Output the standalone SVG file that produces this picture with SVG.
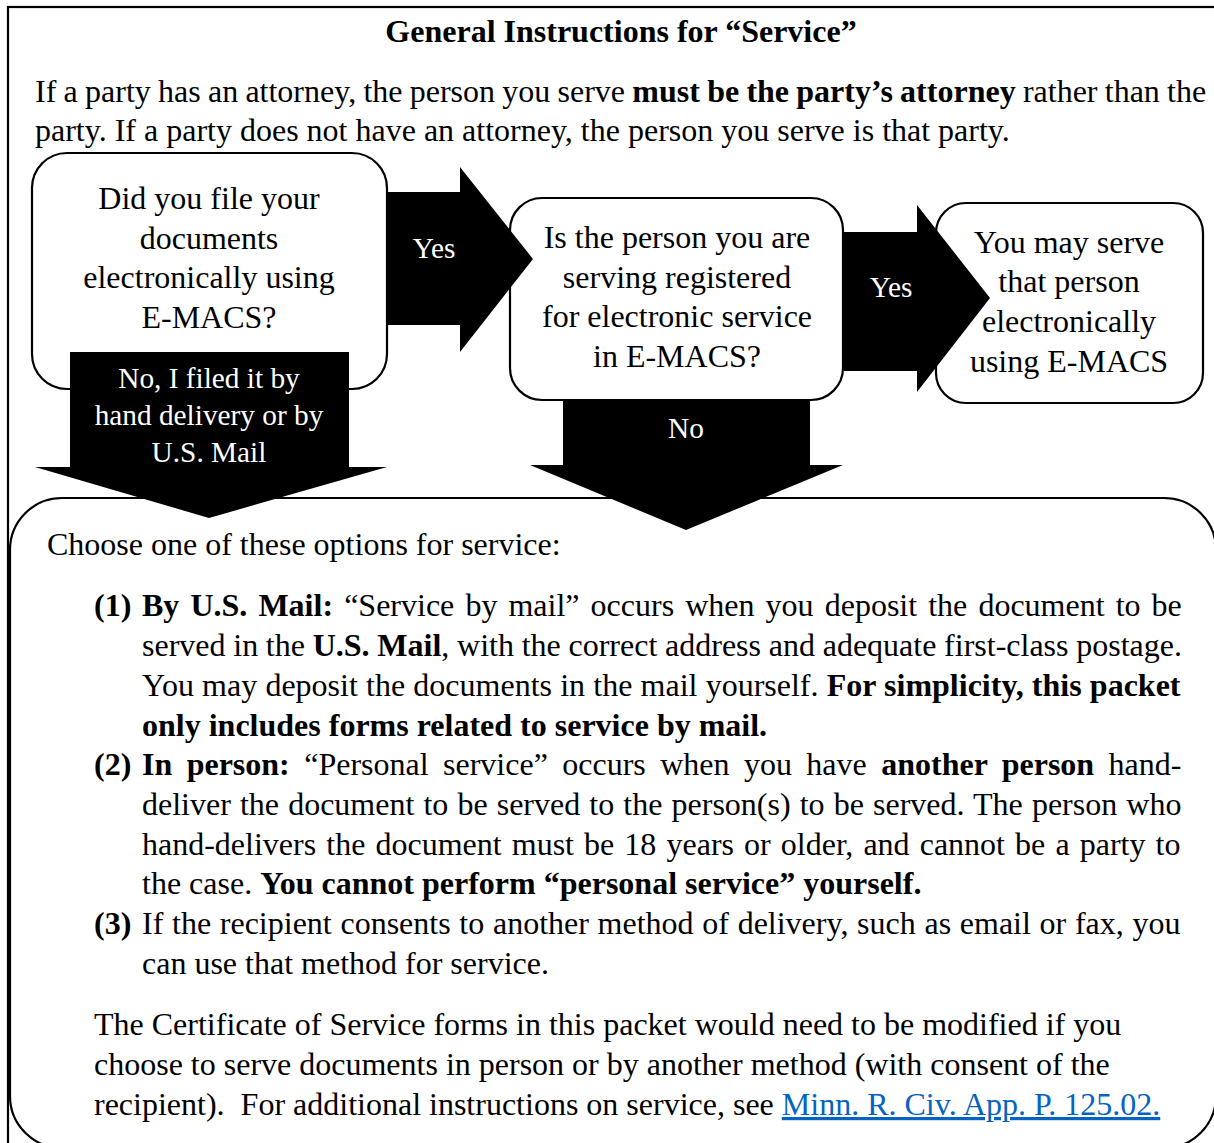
<svg xmlns="http://www.w3.org/2000/svg" width="1214" height="1143" viewBox="0 0 1214 1143">
<style>
.t{font-family:"Liberation Serif","Times New Roman",serif;font-size:32px;fill:#000}
.b{font-weight:bold}
.c{text-anchor:middle}
.w{fill:#fff;font-size:29.3px;text-anchor:middle}
.box{fill:#fff;stroke:#000;stroke-width:2.2}
.arrow{fill:#000;stroke:none}
.lnk{fill:#0563C1;text-decoration:underline}
</style>
<rect x="8" y="7" width="1230" height="1160" fill="#fff" stroke="#000" stroke-width="2.2"/>
<g id="header">
<text class="t b c" x="621" y="42">General Instructions for “Service”</text>
<text class="t" x="35" y="102" word-spacing="-0.75">If a party has an attorney, the person you serve <tspan class="b">must be the party’s attorney</tspan> rather than the</text>
<text class="t" x="35" y="141">party. If a party does not have an attorney, the person you serve is that party.</text>
</g>
<g id="options">
<rect class="box" x="10" y="498" width="1206" height="650" rx="52" ry="52"/>
<text class="t" x="47" y="555">Choose one of these options for service:</text>
<text class="t b" x="94" y="616">(1)</text>
<text class="t" x="142" y="616" word-spacing="3.08"><tspan class="b">By U.S. Mail:</tspan> “Service by mail” occurs when you deposit the document to be</text>
<text class="t" x="142" y="656" word-spacing="-0.27">served in the <tspan class="b">U.S. Mail</tspan>, with the correct address and adequate first-class postage.</text>
<text class="t" x="142" y="696" word-spacing="0.2">You may deposit the documents in the mail yourself. <tspan class="b">For simplicity, this packet</tspan></text>
<text class="t b" x="142" y="736">only includes forms related to service by mail.</text>
<text class="t b" x="94" y="775">(2)</text>
<text class="t" x="142" y="775" word-spacing="6.42"><tspan class="b">In person:</tspan> “Personal service” occurs when you have <tspan class="b">another person</tspan> hand-</text>
<text class="t" x="142" y="815" word-spacing="1.1">deliver the document to be served to the person(s) to be served. The person who</text>
<text class="t" x="142" y="855" word-spacing="2.1">hand-delivers the document must be 18 years or older, and cannot be a party to</text>
<text class="t" x="142" y="894">the case. <tspan class="b">You cannot perform “personal service” yourself.</tspan></text>
<text class="t b" x="94" y="934">(3)</text>
<text class="t" x="142" y="934" word-spacing="0.7">If the recipient consents to another method of delivery, such as email or fax, you</text>
<text class="t" x="142" y="974">can use that method for service.</text>
<text class="t" x="94" y="1035">The Certificate of Service forms in this packet would need to be modified if you</text>
<text class="t" x="94" y="1075">choose to serve documents in person or by another method (with consent of the</text>
<text class="t" x="94" y="1115" xml:space="preserve">recipient).  For additional instructions on service, see <tspan class="lnk">Minn. R. Civ. App. P. 125.02.</tspan></text>
</g>
<g id="q1">
<rect class="box" x="32" y="153" width="355" height="236" rx="35" ry="35"/>
<text class="t c" x="209" y="209">Did you file your</text>
<text class="t c" x="209" y="249">documents</text>
<text class="t c" x="209" y="288">electronically using</text>
<text class="t c" x="209" y="328">E-MACS?</text>
</g>
<g id="q2">
<rect class="box" x="510" y="198" width="333" height="202" rx="32" ry="32"/>
<text class="t c" x="677" y="248">Is the person you are</text>
<text class="t c" x="677" y="288">serving registered</text>
<text class="t c" x="677" y="327">for electronic service</text>
<text class="t c" x="677" y="367">in E-MACS?</text>
</g>
<g id="result">
<rect class="box" x="936" y="203" width="267" height="200" rx="30" ry="30"/>
<text class="t c" x="1069" y="253">You may serve</text>
<text class="t c" x="1069" y="292">that person</text>
<text class="t c" x="1069" y="332">electronically</text>
<text class="t c" x="1069" y="372">using E-MACS</text>
</g>
<g id="connectors">
<path class="arrow" d="M70,352 H349 V467 H387 L209,518 L35,467 H70 Z"/>
<path class="arrow" d="M388,192 H460 V167 L533,259 L460,352 V325 H388 Z"/>
<path class="arrow" d="M563,401 H810 V465 H843 L686,530 L530,465 H563 Z"/>
<path class="arrow" d="M844,232 H917 V205 L990,298 L917,392 V371 H844 Z"/>
<text class="t w" x="209" y="388">No, I filed it by</text>
<text class="t w" x="209" y="425">hand delivery or by</text>
<text class="t w" x="209" y="462">U.S. Mail</text>
<text class="t w" x="434" y="258">Yes</text>
<text class="t w" x="891" y="297">Yes</text>
<text class="t w" x="686" y="438">No</text>
</g>
</svg>
